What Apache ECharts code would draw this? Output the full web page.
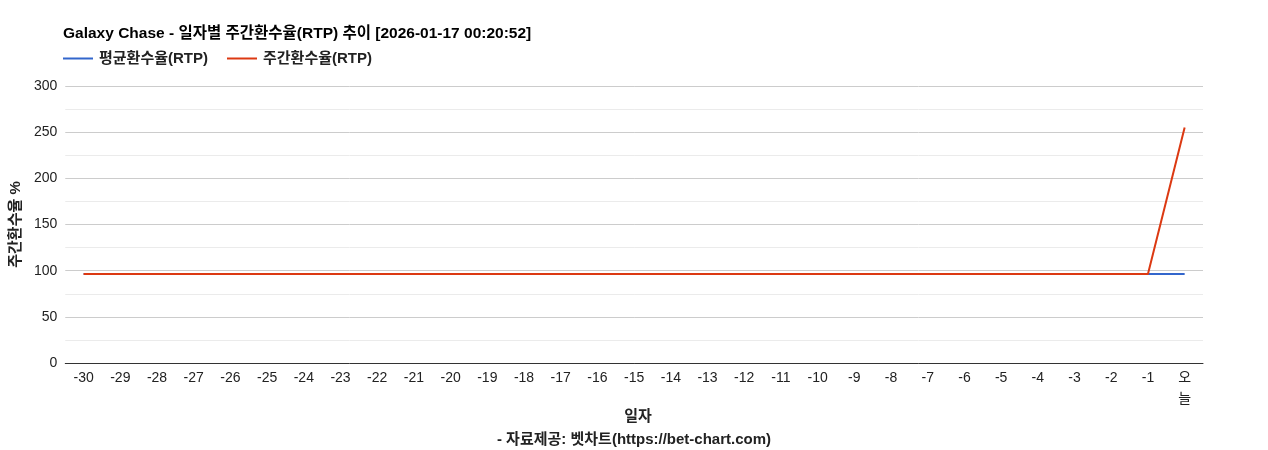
<!DOCTYPE html>
<html>
<head>
<meta charset="utf-8">
<script src="https://cdn.jsdelivr.net/npm/echarts@6/dist/echarts.min.js"></script>
<style>
html,body{margin:0;padding:0;background:#fff;}
#chart{width:1268px;height:450px;}
</style>
</head>
<body>
<div id="chart"></div>
<script>
var days=['-30','-29','-28','-27','-26','-25','-24','-23','-22','-21','-20','-19','-18','-17','-16','-15','-14','-13','-12','-11','-10','-9','-8','-7','-6','-5','-4','-3','-2','-1','오\n늘'];
var avgRtp=[96.5,96.5,96.5,96.5,96.5,96.5,96.5,96.5,96.5,96.5,96.5,96.5,96.5,96.5,96.5,96.5,96.5,96.5,96.5,96.5,96.5,96.5,96.5,96.5,96.5,96.5,96.5,96.5,96.5,96.5,96.5];
var weekRtp=[96.5,96.5,96.5,96.5,96.5,96.5,96.5,96.5,96.5,96.5,96.5,96.5,96.5,96.5,96.5,96.5,96.5,96.5,96.5,96.5,96.5,96.5,96.5,96.5,96.5,96.5,96.5,96.5,96.5,96.5,255];
var font='"Liberation Sans", Arial, "Noto Sans CJK KR", sans-serif';

var myChart=echarts.init(document.getElementById('chart'));
var option={
    animation:false,
    textStyle:{fontFamily:font},
    title:[
        {text:'Galaxy Chase - 일자별 주간환수율(RTP) 추이 [2026-01-17 00:20:52]',left:58,top:21,
         textStyle:{fontSize:15.5,fontWeight:'bold',color:'#000',fontFamily:font}},
        {text:'일자',left:633,top:404,textAlign:'center',                             //x축 이름
         textStyle:{fontSize:15,fontWeight:'bold',color:'#222',fontFamily:font}},
        {text:'- 자료제공: 벳차트(https://bet-chart.com)',left:'center',top:427,
         textStyle:{fontSize:15,fontWeight:'bold',color:'#222',fontFamily:font}}     //하단 출처
    ],
    legend:{
        left:58,top:46,
        itemWidth:30,itemHeight:2,itemGap:19,
        icon:'rect',
        textStyle:{fontSize:15,fontWeight:'bold',color:'#222',fontFamily:font,padding:[0,0,0,1]},
        data:['평균환수율(RTP)','주간환수율(RTP)']
    },
    grid:{left:63,right:65,top:86,bottom:87,containLabel:false},
    xAxis:{
        type:'category',
        data:days,
        boundaryGap:true,
        axisLine:{lineStyle:{color:'#333',width:1}},
        axisTick:{show:false},
        axisLabel:{interval:0,fontSize:14,color:'#222',margin:5,lineHeight:21}
    },
    yAxis:{
        type:'value',
        min:0,max:300,interval:50,
        name:'주간환수율 %',
        nameLocation:'middle',
        nameGap:32,
        nameTextStyle:{fontSize:15,fontWeight:'bold',color:'#222'},
        axisLine:{show:false},
        axisTick:{show:false},
        axisLabel:{fontSize:14,color:'#222',margin:8},
        splitLine:{lineStyle:{color:'#cccccc',width:1}},
        minorTick:{show:false,splitNumber:2},
        minorSplitLine:{show:true,lineStyle:{color:'#ebebeb',width:1}}
    },
    series:[
        {name:'평균환수율(RTP)',type:'line',data:avgRtp,symbol:'none',
         lineStyle:{color:'#3366cc',width:2},itemStyle:{color:'#3366cc'}},
        {name:'주간환수율(RTP)',type:'line',data:weekRtp,symbol:'none',
         lineStyle:{color:'#dc3912',width:2},itemStyle:{color:'#dc3912'}}
    ]
};
option && myChart.setOption(option);
</script>
</body>
</html>
